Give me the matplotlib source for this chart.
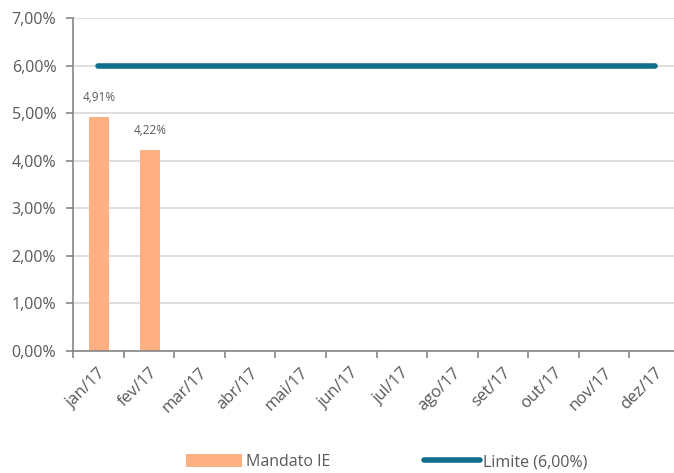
import matplotlib.pyplot as plt
import numpy as np
from matplotlib.ticker import FuncFormatter

# Data
months = ['jan/17', 'fev/17', 'mar/17', 'abr/17', 'mai/17', 'jun/17',
          'jul/17', 'ago/17', 'set/17', 'out/17', 'nov/17', 'dez/17']
mandato = [4.91, 4.22]
limite = [6.0] * 12

plt.rcParams['font.family'] = ['Open Sans', 'DejaVu Sans']

fig = plt.figure(figsize=(6.74, 4.73), dpi=100)
W, H = 674, 473
ax = fig.add_axes([73 / W, (H - 351) / H, 607 / W, 333 / H])

x = np.arange(len(months))
bars = ax.bar(x[:len(mandato)] + 0.02, mandato, width=0.4, color='#FFB083', label='Mandato IE', zorder=2)
line, = ax.plot(x, limite, color='#0F6E8C', linewidth=4, solid_capstyle='round', label='Limite (6,00%)', zorder=3)

for xi, v in zip(x, mandato):
    ax.text(xi + 0.02, v + 0.28, f'{v:.2f}%'.replace('.', ','), ha='center', va='bottom',
            fontsize=8.5, color='#595959')

ax.set_xlim(-0.5, 11.5)
ax.set_ylim(0, 7)
ax.set_yticks(np.arange(0, 8, 1))
ax.yaxis.set_major_formatter(FuncFormatter(lambda v, p: f'{v:.2f}%'.replace('.', ',')))
ax.set_xticks(x)
ax.set_xticklabels(months, rotation=45, ha='right', rotation_mode='anchor')
ax.set_xticks(np.arange(-0.5, 12, 1), minor=True)
ax.tick_params(axis='x', which='major', length=0, pad=10, labelsize=12, labelcolor='#595959')
ax.tick_params(axis='x', which='minor', length=5, color='#868686', width=1.2)
ax.tick_params(axis='y', length=5, color='#868686', width=1.2, labelsize=11.5, labelcolor='#595959', pad=7)

ax.grid(axis='y', color='#D9D9D9', linewidth=1.2, zorder=0)
ax.set_axisbelow(True)
for s in ['top', 'right']:
    ax.spines[s].set_visible(False)
for s in ['left', 'bottom']:
    ax.spines[s].set_color('#868686')
    ax.spines[s].set_linewidth(1.2)

fig.legend(handles=[bars, line], loc='center', bbox_to_anchor=(387 / W, 1 - 462 / H), ncol=2,
           frameon=False, fontsize=11.5, labelcolor='#595959', handlelength=3.5, handleheight=0.85,
           columnspacing=5.9, handletextpad=0.2, borderpad=0.1)

fig.savefig('out.png', dpi=100)
